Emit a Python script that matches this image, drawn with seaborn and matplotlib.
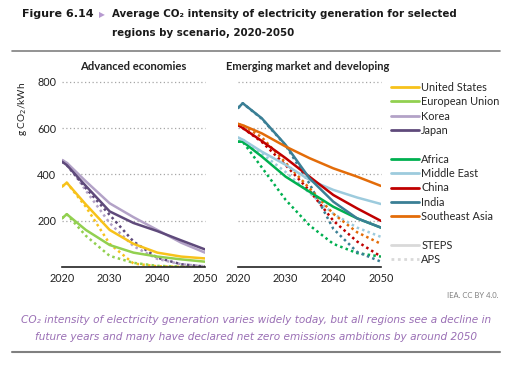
import numpy as np
import pandas as pd
import matplotlib.pyplot as plt
import seaborn as sns
from matplotlib.lines import Line2D

years = [2020, 2021, 2025, 2030, 2035, 2040, 2045, 2050]

# Advanced economies, STEPS (solid) and APS (dotted)
us_steps = [347, 364, 270, 160, 100, 62, 45, 37]
eu_steps = [210, 228, 160, 95, 62, 45, 33, 23]
korea_steps = [462, 450, 370, 275, 215, 160, 105, 62]
japan_steps = [455, 440, 350, 240, 190, 155, 115, 76]

us_aps = [347, 364, 260, 100, 15, 3, 1, 0]
eu_aps = [210, 228, 135, 48, 18, 5, 2, 0]
korea_aps = [462, 450, 330, 190, 90, 35, 12, 3]
japan_aps = [455, 440, 340, 225, 110, 40, 12, 2]

# Emerging market and developing
africa_steps = [541, 541, 477, 390, 325, 260, 210, 170]
mideast_steps = [559, 550, 498, 441, 376, 333, 300, 272]
china_steps = [613, 600, 544, 470, 390, 311, 253, 199]
india_steps = [686, 707, 642, 527, 383, 282, 210, 170]
sea_steps = [618, 612, 577, 520, 470, 426, 390, 350]

africa_aps = [541, 541, 430, 290, 180, 100, 60, 45]
mideast_aps = [559, 550, 490, 410, 320, 230, 170, 130]
china_aps = [613, 600, 540, 440, 330, 200, 110, 45]
india_aps = [686, 707, 640, 525, 360, 165, 65, 23]
sea_aps = [618, 612, 560, 450, 340, 230, 150, 100]

colors = {
    'United States': '#f7c21b',
    'European Union': '#92d050',
    'Korea': '#b3a2c7',
    'Japan': '#5f4a7b',
    'Africa': '#00b050',
    'Middle East': '#9dcbdd',
    'China': '#c00000',
    'India': '#3a7f95',
    'Southeast Asia': '#e36c09',
}

adv = {'United States': (us_steps, us_aps), 'European Union': (eu_steps, eu_aps),
       'Korea': (korea_steps, korea_aps), 'Japan': (japan_steps, japan_aps)}
emg = {'Africa': (africa_steps, africa_aps), 'Middle East': (mideast_steps, mideast_aps),
       'China': (china_steps, china_aps), 'India': (india_steps, india_aps),
       'Southeast Asia': (sea_steps, sea_aps)}


def to_long(groups):
    rows = []
    for region, (steps, aps) in groups.items():
        for y, s, a in zip(years, steps, aps):
            rows.append((region, 'STEPS', y, s))
            rows.append((region, 'APS', y, a))
    return pd.DataFrame(rows, columns=['region', 'scenario', 'year', 'value'])


sns.set_style('white')
plt.rcParams['font.family'] = ['Lato', 'DejaVu Sans']

fig = plt.figure(figsize=(5.3, 3.69), dpi=100)
ax1 = fig.add_axes([0.117, 0.2764, 0.2698, 0.5022])
ax2 = fig.add_axes([0.449, 0.2764, 0.2698, 0.5022])

dot = (1, 1.3)
for ax, groups in [(ax1, adv), (ax2, emg)]:
    df = to_long(groups)
    pal = {k: colors[k] for k in groups}
    sns.lineplot(data=df[df.scenario == 'APS'], x='year', y='value', hue='region',
                 palette=pal, ax=ax, legend=False, linewidth=1.8)
    for l in ax.lines:
        l.set_dashes(dot)
    sns.lineplot(data=df[df.scenario == 'STEPS'], x='year', y='value', hue='region',
                 palette=pal, ax=ax, legend=False, linewidth=1.8)
    ax.set_xlim(2020, 2050)
    ax.set_ylim(0, 800)
    ax.set_xticks([2020, 2030, 2040, 2050])
    ax.set_yticks([200, 400, 600, 800])
    for v in [200, 400, 600, 800]:
        ax.axhline(v, color='#a6a6a6', lw=0.9, ls=(0, (1, 2)), zorder=0, clip_on=False)
    for s in ['top', 'right', 'left']:
        ax.spines[s].set_visible(False)
    ax.spines['bottom'].set_color('#222222')
    ax.spines['bottom'].set_linewidth(1.2)
    ax.tick_params(axis='both', length=0, labelsize=7.8, colors='#222222', pad=4)
    ax.set_xlabel('')
    ax.set_ylabel('')

ax2.set_yticklabels([])
ax1.set_ylabel('g CO$_2$/kWh', fontsize=7.2, loc='top', labelpad=6, color='#222222')

fig.text(0.252, 0.821, 'Advanced economies', ha='center', va='center',
         fontsize=8.1, fontweight='bold', color='#222222')
fig.text(0.58, 0.821, 'Emerging market and developing', ha='center', va='center',
         fontsize=8.0, fontweight='bold', color='#222222')

# legend
handles = []
labels = []
for name in ['United States', 'European Union', 'Korea', 'Japan']:
    handles.append(Line2D([], [], color=colors[name], lw=2))
    labels.append(name)
handles.append(Line2D([], [], color='none'))
labels.append(' ')
for name in ['Africa', 'Middle East', 'China', 'India', 'Southeast Asia']:
    handles.append(Line2D([], [], color=colors[name], lw=2))
    labels.append(name)
handles.append(Line2D([], [], color='none'))
labels.append(' ')
handles.append(Line2D([], [], color='#d9d9d9', lw=2))
labels.append('STEPS')
handles.append(Line2D([], [], color='#d9d9d9', lw=2, dashes=dot))
labels.append('APS')
fig.legend(handles, labels, loc='upper left', bbox_to_anchor=(0.737, 0.778),
           frameon=False, fontsize=7.9, handlelength=2.6, handletextpad=0.2,
           labelspacing=0.305, borderaxespad=0, borderpad=0)

# header
fig.text(0.042, 0.962, 'Figure 6.14', fontsize=8.0, fontweight='bold',
         color='#1a1a1a', va='center', family=['DejaVu Sans'])
fig.text(0.187, 0.962, '\u25b6', fontsize=5.5, color='#b79ad0', va='center',
         family=['DejaVu Sans'])
fig.text(0.211, 0.962, 'Average CO\u2082 intensity of electricity generation for selected',
         fontsize=7.4, fontweight='bold', color='#1a1a1a', va='center',
         family=['DejaVu Sans'])
fig.text(0.211, 0.91, 'regions by scenario, 2020-2050',
         fontsize=7.4, fontweight='bold', color='#1a1a1a', va='center',
         family=['DejaVu Sans'])
fig.add_artist(Line2D([0.023, 0.943], [0.862, 0.862], color='#808080', lw=1.2))

# footer
fig.text(0.94, 0.198, 'IEA. CC BY 4.0.', fontsize=5.5, color='#808080', ha='right',
         va='center')
fig.text(0.483, 0.132, 'CO\u2082 intensity of electricity generation varies widely today, but all regions see a decline in',
         fontsize=7.55, color='#9a6fb5', style='italic', ha='center', va='center',
         family=['DejaVu Sans'])
fig.text(0.483, 0.086, 'future years and many have declared net zero emissions ambitions by around 2050',
         fontsize=7.55, color='#9a6fb5', style='italic', ha='center', va='center',
         family=['DejaVu Sans'])
fig.add_artist(Line2D([0.023, 0.943], [0.046, 0.046], color='#808080', lw=1.5))

fig.savefig('out.png', dpi=100)
